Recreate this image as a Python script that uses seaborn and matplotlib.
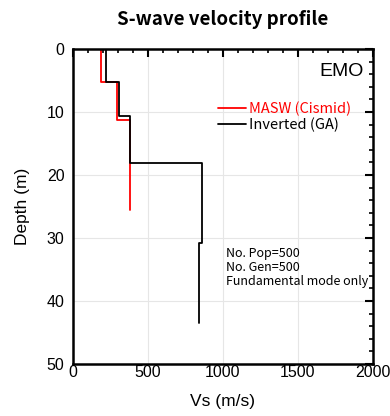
import numpy as np
import pandas as pd
import matplotlib
matplotlib.use('Agg')
import matplotlib.pyplot as plt
import seaborn as sns
from matplotlib.ticker import MultipleLocator

# layer velocities (m/s) and layer bottom depths (m)
masw_vs = [185, 295, 378]
masw_bottom = [5.2, 11.3, 25.5]
ga_vs = [220, 305, 382, 858, 840]
ga_bottom = [5.2, 10.7, 18.1, 30.8, 43.5]


def step_profile(vs, bottom, name):
    xs, ys = [], []
    top = 0
    for v, b in zip(vs, bottom):
        xs += [v, v]
        ys += [top, b]
        top = b
    return pd.DataFrame({'Vs': xs, 'Depth': ys, 'Profile': name})


df = pd.concat([step_profile(masw_vs, masw_bottom, 'MASW (Cismid)'),
                step_profile(ga_vs, ga_bottom, 'Inverted (GA)')])

sns.set_style('white')
plt.rcParams['font.family'] = ['Liberation Sans', 'DejaVu Sans']
plt.rcParams['text.color'] = 'black'
plt.rcParams['axes.labelcolor'] = 'black'
plt.rcParams['xtick.color'] = 'black'
plt.rcParams['ytick.color'] = 'black'

jp = ['Noto Sans CJK JP', 'DejaVu Sans']

fig = plt.figure(figsize=(3.9, 4.16), dpi=100)
ax = fig.add_axes([0.187, 0.125, 0.769, 0.757])

sns.lineplot(data=df, x='Vs', y='Depth', hue='Profile', sort=False, estimator=None,
             palette={'MASW (Cismid)': 'red', 'Inverted (GA)': 'black'},
             linewidth=1.3, ax=ax)

ax.set_xlim(0, 2000)
ax.set_ylim(50, 0)
ax.xaxis.set_major_locator(MultipleLocator(500))
ax.xaxis.set_minor_locator(MultipleLocator(100))
ax.yaxis.set_major_locator(MultipleLocator(10))
ax.yaxis.set_minor_locator(MultipleLocator(2))
ax.tick_params(which='both', direction='in', top=True, right=True, labelsize=11.5)
ax.tick_params(axis='x', which='major', pad=1)
ax.tick_params(axis='y', which='major', pad=6)
ax.tick_params(which='major', length=6, width=1.5)
ax.tick_params(which='minor', length=3, width=1.2)
ax.grid(True, which='major', color='#e6e6e6', linewidth=0.8)
for s in ax.spines.values():
    s.set_linewidth(1.8)
    s.set_color('black')

ax.set_xlabel('Vs (m/s)', fontsize=12.5, labelpad=10)
ax.set_ylabel('Depth (m)', fontsize=12.5, labelpad=12)
ax.set_title('S-wave velocity profile', fontsize=13.5, fontweight='bold', pad=17, family=jp)

leg = ax.legend(loc='upper left', bbox_to_anchor=(0.46, 0.855), frameon=False,
                prop={'family': jp, 'size': 10.5}, handlelength=1.9, handletextpad=0.2,
                labelspacing=0.05, borderpad=0)
for txt, line in zip(leg.get_texts(), leg.get_lines()):
    txt.set_color(line.get_color())

ax.text(0.97, 0.93, 'EMO', transform=ax.transAxes, ha='right', va='center', fontsize=14)
ax.text(1020, 31.5, 'No. Pop=500\nNo. Gen=500\nFundamental mode only',
        fontsize=9, va='top', ha='left', linespacing=1.1, family=jp)

fig.savefig('out.png', dpi=100)
